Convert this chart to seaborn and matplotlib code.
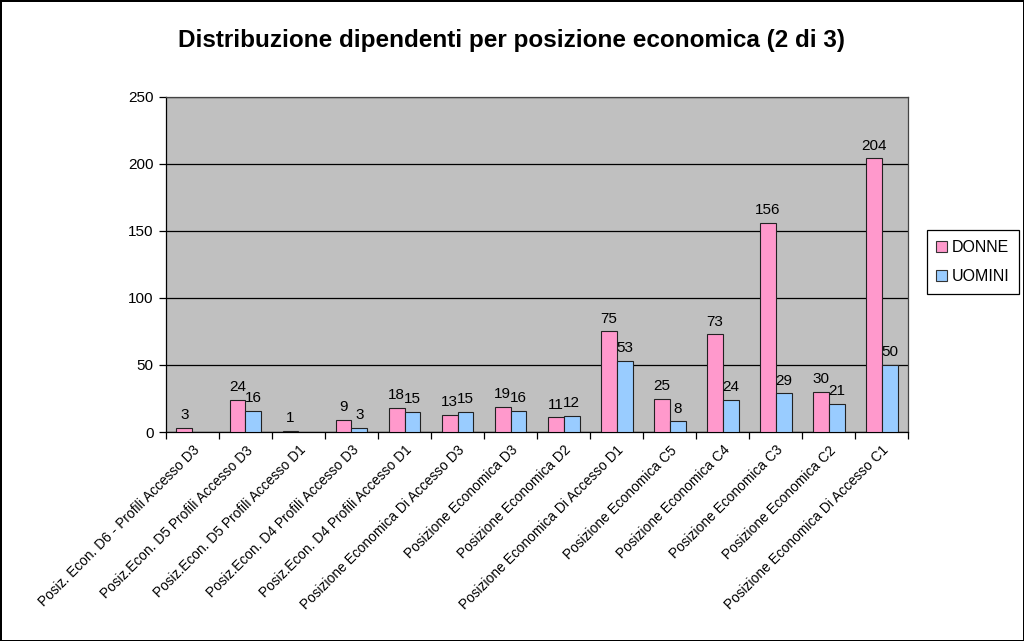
import matplotlib
matplotlib.use("Agg")
import matplotlib.pyplot as plt
import numpy as np
import pandas as pd
import seaborn as sns

categories = [
    "Posiz. Econ. D6 - Profili Accesso D3",
    "Posiz.Econ. D5 Profili Accesso D3",
    "Posiz.Econ. D5 Profili Accesso D1",
    "Posiz.Econ. D4 Profili Accesso D3",
    "Posiz.Econ. D4 Profili Accesso D1",
    "Posizione Economica Di Accesso D3",
    "Posizione Economica D3",
    "Posizione Economica D2",
    "Posizione Economica Di Accesso D1",
    "Posizione Economica C5",
    "Posizione Economica C4",
    "Posizione Economica C3",
    "Posizione Economica C2",
    "Posizione Economica Di Accesso C1",
]
donne = [3, 24, 1, 9, 18, 13, 19, 11, 75, 25, 73, 156, 30, 204]
uomini = [np.nan, 16, np.nan, 3, 15, 15, 16, 12, 53, 8, 24, 29, 21, 50]
series = ["DONNE", "UOMINI"]
colors = ["#FF99CC", "#99CCFF"]
title = "Distribuzione dipendenti per posizione economica (2 di 3)"

df = pd.DataFrame({
    "categoria": categories * 2,
    "valore": donne + uomini,
    "serie": [series[0]] * len(categories) + [series[1]] * len(categories),
})

sns.set_theme(style="white")
plt.rcParams["font.family"] = ["Liberation Sans", "DejaVu Sans"]
plt.rcParams["text.color"] = "black"
plt.rcParams["xtick.color"] = "black"
plt.rcParams["ytick.color"] = "black"

fig = plt.figure(figsize=(10.24, 6.41), dpi=100)
fig.patch.set_facecolor("white")
fig.patch.set_edgecolor("black")
fig.patch.set_linewidth(2)
ax = fig.add_axes([0.162, 0.326, 0.725, 0.523])

sns.barplot(
    data=df, x="categoria", y="valore", hue="serie", order=categories,
    hue_order=series, palette=colors, width=0.6, edgecolor="#222222",
    linewidth=0.8, saturation=1, ax=ax, legend=False, zorder=3,
)

ax.set_facecolor("#C0C0C0")
ax.set_ylim(0, 250)
ax.set_xlim(-0.5, len(categories) - 0.5)
ax.set_yticks(range(0, 251, 50))
ax.yaxis.grid(True, color="black", linewidth=0.9, zorder=0)
ax.set_axisbelow(True)
for spine in ax.spines.values():
    spine.set_color("#444444")
    spine.set_linewidth(0.9)
ax.spines["left"].set_color("black")
ax.spines["bottom"].set_color("black")

ax.set_xticks(range(len(categories)))
ax.set_xticklabels(categories, rotation=45, ha="right", rotation_mode="anchor", fontsize=9.9)
ax.set_xticks(np.arange(-0.5, len(categories), 1.0), minor=True)
ax.tick_params(axis="x", which="major", length=0, pad=8)
ax.tick_params(axis="x", which="minor", length=5, width=0.9, color="black", bottom=True)
ax.tick_params(axis="y", length=5, width=0.9, color="black", left=True, labelsize=11, pad=4)
ax.set_xlabel("")
ax.set_ylabel("")

for cont in ax.containers:
    labels = ["" if np.isnan(v) else f"{v:.0f}" for v in cont.datavalues]
    ax.bar_label(cont, labels=labels, padding=4, fontsize=11)

handles = [plt.Rectangle((0, 0), 1, 1, facecolor=c, edgecolor="#333333", linewidth=0.8) for c in colors]
leg = fig.legend(
    handles, series, loc="center left", bbox_to_anchor=(0.897, 0.591),
    frameon=True, fancybox=False, framealpha=1, edgecolor="black",
    fontsize=11.5, handlelength=0.7, handleheight=0.7, handletextpad=0.3,
    borderpad=0.6, labelspacing=0.9,
)
leg.get_frame().set_linewidth(0.9)

fig.text(0.5, 0.937, title, ha="center", va="center", fontsize=17.5, fontweight="bold")

fig.savefig("out.png", dpi=100, facecolor=fig.get_facecolor(), edgecolor=fig.get_edgecolor())
